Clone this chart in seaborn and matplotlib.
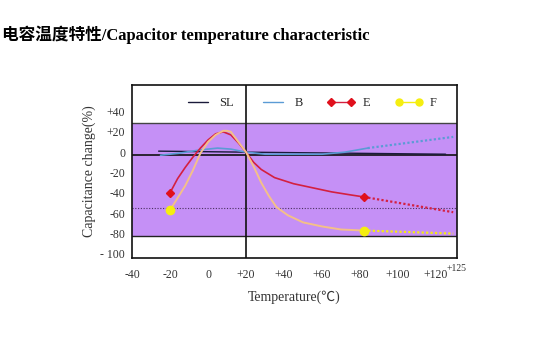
import matplotlib
matplotlib.use("Agg")
import matplotlib.pyplot as plt
import seaborn as sns
import pandas as pd
from matplotlib.lines import Line2D

# ---- data ----
sl_t = [-26, 20, 125]
sl_v = [1, 0, -2]

b_t = [-25, -15, -5, 5, 12, 20, 30, 45, 60, 72, 84]
b_v = [-3, -1, 2, 4, 3, 0, -2, -2, -2, 0, 4]
b_ext_t = [84, 129]
b_ext_v = [4, 15]

e_t = [-20, -16, -12, -8, -4, 0, 4, 8, 12, 16, 20, 24, 28, 35, 45, 55, 65, 75, 82]
e_v = [-40, -26, -15, -5, 4, 12, 18, 20, 17, 9, 0, -10, -17, -25, -31, -35, -39, -42, -44]
e_ext_t = [82, 129]
e_ext_v = [-44, -59]

f_t = [-20, -16, -12, -8, -4, 0, 4, 8, 10, 12, 16, 20, 24, 28, 32, 36, 42, 50, 60, 70, 82]
f_v = [-57, -45, -33, -18, -1, 10, 17, 21, 21, 20, 10, 0, -14, -30, -43, -54, -62, -69, -73, -76, -77]
f_ext_t = [82, 129]
f_ext_v = [-77, -80]

x_ticks = [-40, -20, 0, 20, 40, 60, 80, 100, 120]
x_labels = ["-40", "-20", "0", "+20", "+40", "+60", "+80", "+100", "+120"]
y_ticks = [40, 20, 0, -20, -40, -60, -80, -100]
y_labels = ["+40", "+20", "0", "-20", "-40", "-60", "-80", "- 100"]

band = (-82, 29)
zero_line = -3
dotted_ref = -55
vline_x = 20

# ---- styling ----
sns.set_style("white")
plt.rcParams['font.family'] = ['Liberation Serif', 'Noto Sans CJK SC', 'DejaVu Sans']

C_SL = "#1a1a3a"
C_B = "#5b9bd5"
C_E = "#d42040"
C_EM = "#e0101c"
C_F = "#f4c088"
C_FM = "#f5ee10"
PURPLE = "#c590f6"

fig = plt.figure(figsize=(5.55, 3.47), dpi=100)
ax = fig.add_axes([132/555, 1-258/347, (457-132)/555, (258-85)/347])

ax.axhspan(band[0], band[1], color=PURPLE, zorder=0, lw=0)
ax.axhline(band[0], color="#222222", lw=1.0, zorder=1)
ax.axhline(band[1], color="#444444", lw=1.0, zorder=1)
ax.axhline(zero_line, color="#111111", lw=1.2, zorder=2)
ax.axhline(dotted_ref, color="#4a3060", lw=0.8, ls=(0, (1, 1.5)), zorder=2)
ax.axvline(vline_x, color="#111111", lw=1.2, zorder=2)

def df(t, v):
    return pd.DataFrame({"t": t, "v": v})

sns.lineplot(data=df(sl_t, sl_v), x="t", y="v", ax=ax, color=C_SL, lw=1.0, sort=False, zorder=3)
sns.lineplot(data=df(b_t, b_v), x="t", y="v", ax=ax, color=C_B, lw=1.2, sort=False, zorder=3)
sns.lineplot(data=df(b_ext_t, b_ext_v), x="t", y="v", ax=ax, color=C_B, lw=1.6, ls=(0, (1, 1)), sort=False, zorder=3)
sns.lineplot(data=df(e_t, e_v), x="t", y="v", ax=ax, color=C_E, lw=1.2, sort=False, zorder=4)
sns.lineplot(data=df(e_ext_t, e_ext_v), x="t", y="v", ax=ax, color=C_E, lw=1.6, ls=(0, (1, 1)), sort=False, zorder=4)
sns.lineplot(data=df(f_t, f_v), x="t", y="v", ax=ax, color=C_F, lw=1.4, sort=False, zorder=4)
sns.lineplot(data=df(f_ext_t, f_ext_v), x="t", y="v", ax=ax, color=C_FM, lw=1.6, ls=(0, (1, 1)), sort=False, zorder=4)

# end markers
ax.plot([e_t[0], e_t[-1]], [e_v[0], e_v[-1]], ls="none", marker="D", ms=4.5, color=C_EM, zorder=5)
ax.plot([f_t[0], f_t[-1]], [f_v[0], f_v[-1]], ls="none", marker="o", ms=6, color=C_FM, zorder=5)

ax.set_xlim(-40, 131)
ax.set_ylim(-104, 66)
ax.set_xticks(x_ticks)
ax.set_xticklabels(x_labels)
ax.set_yticks(y_ticks)
ax.set_yticklabels(y_labels)
ax.tick_params(axis="x", direction="in", length=3, width=1, labelsize=8.5, pad=8, colors="#111111", labelcolor="#333333")
ax.tick_params(axis="y", direction="out", length=3, width=1, labelsize=8.5, pad=2, colors="#111111", labelcolor="#333333")
ax.text(131, -119, "+125", fontsize=7, color="#333333", ha="center", va="bottom", clip_on=False)

for s in ax.spines.values():
    s.set_color("#111111")
    s.set_linewidth(1.2)

ax.set_xlabel("Temperature(℃)", fontsize=10, color="#333333", labelpad=7)
ax.set_ylabel("Capacitance change(%)", fontsize=10, color="#333333", labelpad=3)

handles = [
    Line2D([], [], color=C_SL, lw=1.0),
    Line2D([], [], color=C_B, lw=1.0),
    Line2D([], [], color=C_E, lw=1.0, marker="D", ms=4, markerfacecolor=C_EM, markeredgecolor=C_EM),
    Line2D([], [], color=C_FM, lw=1.0, marker="o", ms=5, markerfacecolor=C_FM, markeredgecolor=C_FM),
]
ax.legend(handles, ["SL", "B", "E", "F"], ncol=4, frameon=False, loc="center",
          bbox_to_anchor=(0.55, 0.895), fontsize=9, numpoints=2, handlelength=2.2,
          columnspacing=2.0, handletextpad=0.6)

fig.text(0.004, 1-35/347, "电容温度特性/Capacitor temperature characteristic",
         fontsize=12, fontweight="bold", ha="left", va="center", color="#000000")

fig.savefig("out.png", dpi=100)
